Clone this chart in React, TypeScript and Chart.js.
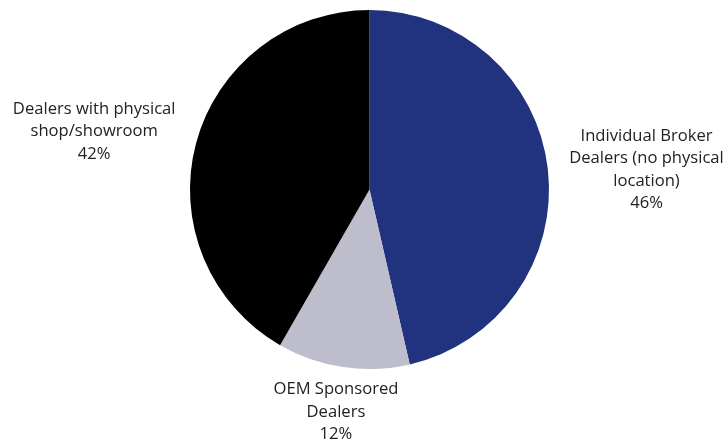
import React, { useEffect, useRef } from "react";
import { Chart, registerables } from "chart.js";

Chart.register(...registerables);

const categories: string[][] = [
  ["Individual Broker", "Dealers (no physical", "location)"],
  ["OEM Sponsored", "Dealers"],
  ["Dealers with physical", "shop/showroom"],
];
const values: number[] = [46.4, 11.9, 41.7];
const colors: string[] = ["#21327f", "#bebdcb", "#000000"];
const nudges: number[][] = [[2, 8], [5, -8], [-4, 2]];

const FONT = '16.6px "Open Sans", "Noto Sans", sans-serif';
const LINE_H = 22.5;

const labelPlugin = {
  id: "outerLabels",
  afterDatasetsDraw(chart: any) {
    const ctx = chart.ctx as CanvasRenderingContext2D;
    const meta = chart.getDatasetMeta(0);
    const total = values.reduce((a, b) => a + b, 0);
    ctx.save();
    ctx.font = FONT;
    ctx.fillStyle = "#222222";
    ctx.textAlign = "center";
    ctx.textBaseline = "middle";
    meta.data.forEach((arc: any, i: number) => {
      const { x, y, startAngle, endAngle, outerRadius } = arc.getProps(
        ["x", "y", "startAngle", "endAngle", "outerRadius"],
        true
      );
      const mid = (startAngle + endAngle) / 2;
      const lines = [...categories[i], Math.round((values[i] / total) * 100) + "%"];
      const w = Math.max(...lines.map((l) => ctx.measureText(l).width));
      const h = lines.length * LINE_H;
      const r = outerRadius + 20;
      const ax = x + Math.cos(mid) * r;
      const ay = y + Math.sin(mid) * r;
      const cx = ax + Math.cos(mid) * (w / 2) + nudges[i][0];
      const cy = ay + Math.sin(mid) * (h / 2) + nudges[i][1];
      lines.forEach((l, k) => {
        ctx.fillText(l, cx, cy - h / 2 + LINE_H * (k + 0.5));
      });
    });
    ctx.restore();
  },
};

export default function App() {
  const ref = useRef<HTMLCanvasElement>(null);
  useEffect(() => {
    document.body.style.margin = "0";
    const chart = new Chart(ref.current!, {
      type: "pie",
      data: {
        labels: categories.map((c) => c.join(" ")),
        datasets: [
          {
            data: values,
            backgroundColor: colors,
            borderWidth: 0,
          },
        ],
      },
      options: {
        animation: false,
        responsive: false,
        layout: { padding: { left: 190, right: 175, top: 10, bottom: 73 } },
        plugins: {
          legend: { display: false },
          tooltip: { enabled: false },
        },
      },
      plugins: [labelPlugin],
    });
    return () => chart.destroy();
  }, []);
  return (
    <div style={{ position: "absolute", left: 0, top: 0, width: 724, height: 442, background: "#fff" }}>
      <canvas ref={ref} width={724} height={442} />
    </div>
  );
}
